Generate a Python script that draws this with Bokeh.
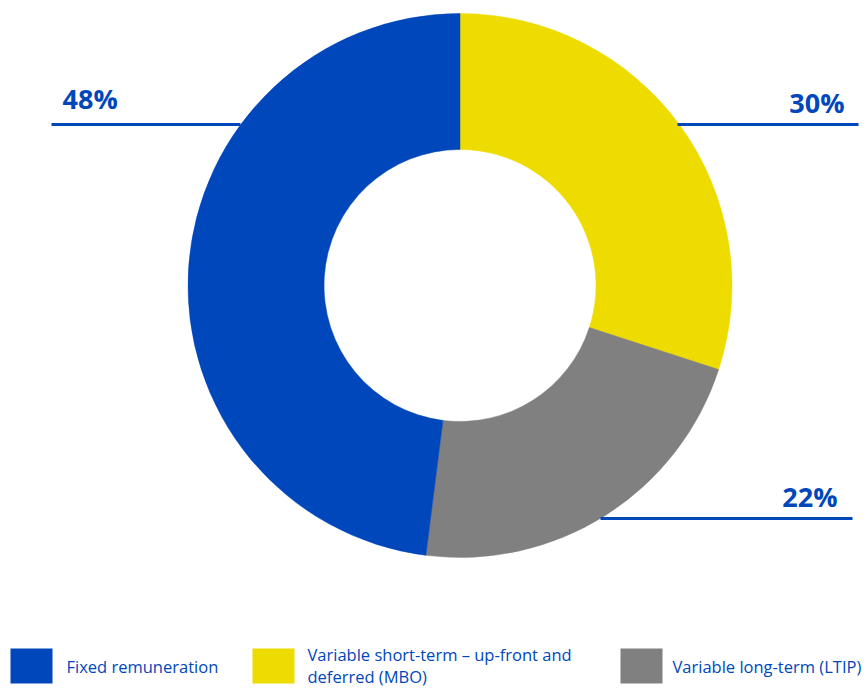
import math
from bokeh.plotting import figure
from bokeh.models import Range1d, ColumnDataSource
from bokeh.core.properties import value
from bokeh.embed import file_html
from bokeh.resources import INLINE

# Data
categories = ["Variable short-term – up-front and\ndeferred (MBO)", "Variable long-term (LTIP)", "Fixed remuneration"]
shares = [30, 22, 48]
colors = ["#EEDC00", "#808080", "#0047BB"]
pct_labels = ["30%", "22%", "48%"]

W, H = 868, 688
TXT = "#0047BB"

p = figure(width=W, height=H, x_range=Range1d(0, W), y_range=Range1d(0, H),
           output_backend="svg", toolbar_location=None, min_border=0)
p.axis.visible = False
p.grid.visible = False
p.outline_line_color = None
p.background_fill_color = "white"

cx, cy = 459.5, H - 285
r_out, r_in = 272, 136

# Wedges (clockwise from top)
starts, ends = [], []
a = math.pi / 2
total = sum(shares)
for s in shares:
    starts.append(a)
    a -= s / total * 2 * math.pi
    ends.append(a)

src = ColumnDataSource(dict(start=starts, end=ends, color=colors))
p.annular_wedge(x=cx, y=cy, inner_radius=r_in, outer_radius=r_out,
                start_angle="start", end_angle="end", direction="clock",
                fill_color="color", line_color="color", line_width=0.5, source=src)

# Leader lines and percentage labels
lines = {"30%": (677, 858, 124), "22%": (600, 852, 518), "48%": (51, 240, 124)}
label_pos = {"30%": (844, 102), "22%": (837, 496), "48%": (62, 98)}
for lab in pct_labels:
    x0, x1, yy = lines[lab]
    p.line([x0, x1], [H - yy, H - yy], line_color=TXT, line_width=3)
    tx, ty = label_pos[lab]
    align = "left" if lab == "48%" else "right"
    p.text(x=[tx], y=[H - ty], text=[lab], text_color=TXT, text_font=value("Open Sans"),
           text_font_size="27px", text_font_style="bold", text_align=align,
           text_baseline="middle")

# Legend
leg_order = [2, 0, 1]
sq_x = [10, 252, 620]
tx_x = [66, 307, 672]
for i, idx in enumerate(leg_order):
    p.quad(left=sq_x[i], right=sq_x[i] + 42, bottom=H - 683, top=H - 648,
           fill_color=colors[idx], line_color=None)
    lines_txt = categories[idx].split("\n")
    if len(lines_txt) == 1:
        p.text(x=[tx_x[i]], y=[H - 666], text=[lines_txt[0]], text_color=TXT,
               text_font=value("Open Sans"), text_font_size="16.5px",
               text_baseline="middle", text_align="left")
    else:
        for j, t in enumerate(lines_txt):
            p.text(x=[tx_x[i]], y=[H - (654 + 22 * j)], text=[t], text_color=TXT,
                   text_font=value("Open Sans"), text_font_size="16.5px",
                   text_baseline="middle", text_align="left")

open("out.html", "w").write(file_html(p, INLINE))
